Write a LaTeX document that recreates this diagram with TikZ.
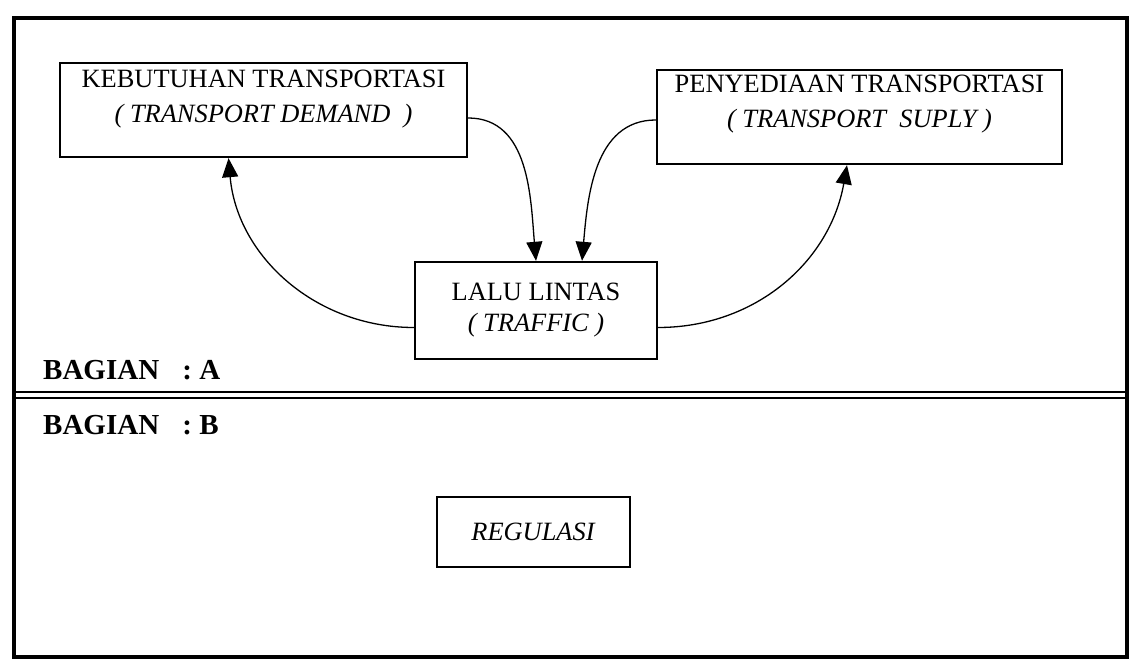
\documentclass[tikz,border=0pt]{standalone}
\usepackage{fontspec}
\setmainfont{Liberation Serif}
\usetikzlibrary{arrows.meta}

\begin{document}
\begin{tikzpicture}[x=1pt,y=1pt,
  blok/.style={draw,line width=2.4pt,align=center,font=\fontsize{26.4}{35}\selectfont},
  alur/.style={line width=1.3pt,-{Triangle[length=19pt,width=16pt]}},
  judul/.style={anchor=base west,inner sep=0pt,font=\fontsize{29}{33}\bfseries}]
  \useasboundingbox (0,0) rectangle (1129,661);

  % Outer frame and the double rule between both parts
  \draw[line width=4pt] (14,4) rectangle (1127,643);
  \draw[line width=2pt] (14,269) -- (1127,269);
  \draw[line width=2pt] (14,263) -- (1127,263);

  % Part A: demand, supply and traffic
  \node[blok,minimum width=407pt,minimum height=94pt,text height=31pt] (demand) at (263.5,551)
    {KEBUTUHAN TRANSPORTASI\\ \textit{( TRANSPORT DEMAND~ )}};
  \node[blok,minimum width=405pt,minimum height=94pt,text height=27pt] (supply) at (859.5,544)
    {PENYEDIAAN TRANSPORTASI\\ \textit{( TRANSPORT~ SUPLY )}};
  \node[blok,minimum width=242pt,minimum height=97pt,font=\fontsize{26.4}{31}\selectfont] (traffic) at (536,350.5)
    {LALU LINTAS\\ \textit{( TRAFFIC )}};

  % Loops between the boxes
  \draw[alur] ([yshift=-8pt]demand.east) to[out=0,in=95] (traffic.north);
  \draw[alur] ([yshift=-3pt]supply.west) to[out=180,in=85] ([xshift=46pt]traffic.north);
  \draw[alur] ([yshift=-17pt]traffic.west) to[out=180,in=-85] ([xshift=-35pt]demand.south);
  \draw[alur] ([yshift=-17pt]traffic.east) to[out=0,in=-100] ([xshift=-12.5pt]supply.south);

  \node[judul] (bagA) at (43,281) {BAGIAN\hspace{0.8em}: A};

  % Part B
  \node[judul] (bagB) at (43,226) {BAGIAN\hspace{0.8em}: B};
  \node[blok,minimum width=193pt,minimum height=70pt] (regulasi) at (533.5,129)
    {\textit{REGULASI}};
\end{tikzpicture}
\end{document}
